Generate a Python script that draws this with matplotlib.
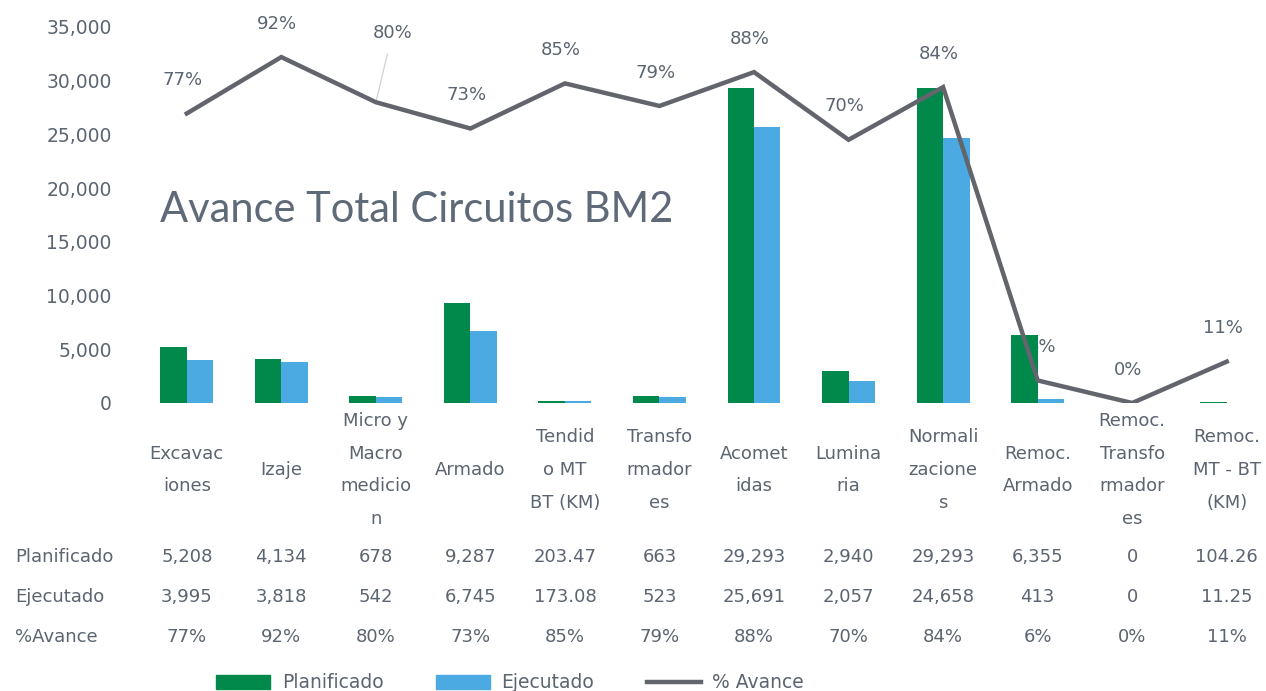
import matplotlib
matplotlib.use("Agg")
import matplotlib.pyplot as plt
from matplotlib.transforms import blended_transform_factory
from matplotlib.lines import Line2D
from matplotlib.patches import Patch
import numpy as np

# ---------------- data ----------------
categories = ["Excavac\niones", "Izaje", "Micro y\nMacro\nmedicio\nn", "Armado",
              "Tendid\no MT\nBT (KM)", "Transfo\nrmador\nes", "Acomet\nidas",
              "Lumina\nria", "Normali\nzacione\ns", "Remoc.\nArmado",
              "Remoc.\nTransfo\nrmador\nes", "Remoc.\nMT - BT\n(KM)"]
planificado = [5208, 4134, 678, 9287, 203.47, 663, 29293, 2940, 29293, 6355, 0, 104.26]
ejecutado = [3995, 3818, 542, 6745, 173.08, 523, 25691, 2057, 24658, 413, 0, 11.25]
avance = [77, 92, 80, 73, 85, 79, 88, 70, 84, 6, 0, 11]
row_labels = ["Planificado", "Ejecutado", "%Avance"]
yticks = [0, 5000, 10000, 15000, 20000, 25000, 30000, 35000]
title = "Avance Total Circuitos BM2"

GREEN = "#00894B"
BLUE = "#4BAAE2"
LINE = "#63656d"
TXT = "#5b6470"
FS = 13

W, H = 1266, 691
fig = plt.figure(figsize=(W / 100, H / 100), dpi=100)
x0, x1 = 139.5, 1274.0
ybot, ytop = 403, 27
ax = fig.add_axes([x0 / W, (H - ybot) / H, (x1 - x0) / W, (ybot - ytop) / H])
ax2 = ax.twinx()

n = len(categories)
x = np.arange(n)
bw = 0.28
ax.bar(x - bw / 2, planificado, bw, color=GREEN, zorder=2)
ax.bar(x + bw / 2, ejecutado, bw, color=BLUE, zorder=2)
ax.set_xlim(-0.5, n - 0.5)
ax.set_ylim(0, 35000)
ax.set_yticks(yticks)
ax.set_yticklabels([f"{v:,}" for v in yticks], color=TXT, fontsize=13.5)
ax.tick_params(axis="y", length=0, pad=20)
ax.set_xticks([])
for s in ax.spines.values():
    s.set_visible(False)

pct = np.array(avance) / 100.0
ax2.plot(x, pct, color=LINE, lw=3.2, zorder=5, solid_joinstyle="miter")
ax2.set_ylim(0, 1.0)
ax2.set_yticks([])
for s in ax2.spines.values():
    s.set_visible(False)

# line data labels (placed in primary axis so bars can overlap them)
for i, p in enumerate(avance):
    dx, dy = -3, 24
    if i == 2:
        dx, dy = 12, 50
        ax.annotate(f"{p}%", (x[i], p / 100 * 35000), xytext=(dx, dy),
                    textcoords="offset points", ha="center", va="center",
                    color=TXT, fontsize=FS, zorder=1,
                    arrowprops=dict(arrowstyle="-", color="#c8ccd2", lw=0.8,
                                    shrinkA=7, shrinkB=2))
        continue
    if i == 9:
        dx = 3
    ax.annotate(f"{p}%", (x[i], p / 100 * 35000), xytext=(dx, dy),
                textcoords="offset points", ha="center", va="center",
                color=TXT, fontsize=FS, zorder=1)

fig.text(417 / W, (H - 210) / H, title, ha="center", va="center",
         fontsize=30, color="#5f6a78", family="Lato")

# ---------------- data table ----------------
tr = blended_transform_factory(ax.transData, fig.transFigure)
def fy(ypix):
    return (H - ypix) / H

for i, c in enumerate(categories):
    ax.text(x[i], fy(470), c, transform=tr, ha="center", va="center",
            fontsize=FS, color=TXT, linespacing=2.05)

def fmt(v):
    return f"{v:,.0f}" if float(v).is_integer() else f"{v:,.2f}"

rows = [[fmt(v) for v in planificado], [fmt(v) for v in ejecutado],
        [f"{v}%" for v in avance]]
row_y = [557, 597, 637]
for r, lab in enumerate(row_labels):
    fig.text(15 / W, fy(row_y[r]), lab, ha="left", va="center",
             fontsize=FS, color=TXT)
    for i in range(n):
        ax.text(x[i], fy(row_y[r]), rows[r][i], transform=tr, ha="center",
                va="center", fontsize=FS, color=TXT)

handles = [Patch(color=GREEN, label=row_labels[0]),
           Patch(color=BLUE, label=row_labels[1]),
           Line2D([], [], color=LINE, lw=3.2, label="% Avance")]
leg = fig.legend(handles=handles, loc="center", bbox_to_anchor=(510 / W, fy(683)),
                 ncol=3, frameon=False, fontsize=13.5, handlelength=2.9,
                 handleheight=0.75, handletextpad=0.6, columnspacing=2.8,
                 labelcolor=TXT)

fig.savefig("out.png", dpi=100)
